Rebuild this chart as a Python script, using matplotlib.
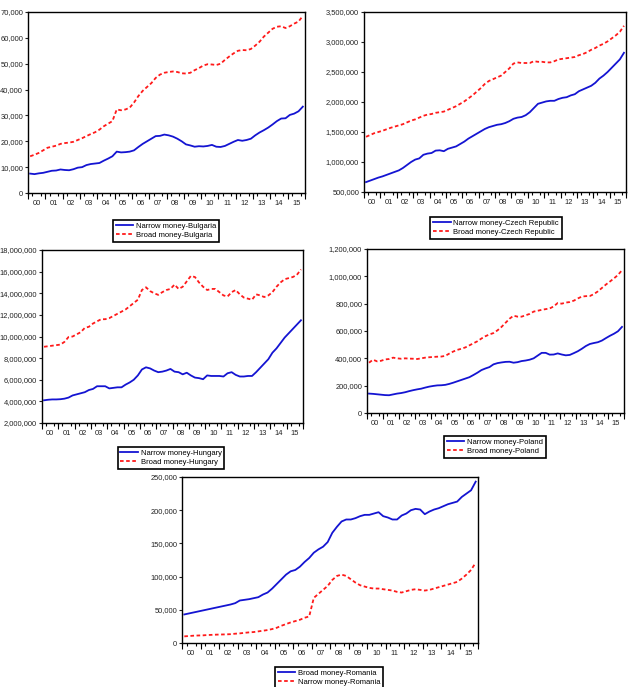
import numpy as np
import matplotlib
matplotlib.use("Agg")
import matplotlib.pyplot as plt
from matplotlib.ticker import FuncFormatter

plt.rcParams["font.family"] = ["Liberation Sans", "DejaVu Sans"]

# ---------- Data (quarterly, 2000Q1 - 2015Q4) ----------
year_labels = ["00", "01", "02", "03", "04", "05", "06", "07",
               "08", "09", "10", "11", "12", "13", "14", "15"]

# Bulgaria, thousands of units
bg_narrow = [7.5, 7.3, 7.6, 7.8, 8.2, 8.6, 8.7, 9.1, 8.9, 8.8, 9.2, 9.8,
             10.0, 10.8, 11.2, 11.4, 11.6, 12.5, 13.3, 14.2, 16.0, 15.7, 15.8, 16.0,
             16.5, 17.8, 19.0, 20.0, 21.0, 22.0, 22.1, 22.6, 22.3, 21.8, 21.0, 20.0,
             18.8, 18.4, 17.9, 18.1, 18.0, 18.2, 18.6, 17.9, 17.8, 18.2, 19.0, 19.8,
             20.5, 20.2, 20.5, 21.0, 22.3, 23.4, 24.3, 25.3, 26.5, 27.8, 28.8, 28.9,
             30.2, 30.7, 31.6, 33.4]
bg_broad = [14.2, 14.8, 15.5, 16.5, 17.5, 17.9, 18.3, 19.0, 19.3, 19.5, 19.8, 20.5,
            21.2, 22.0, 22.8, 23.5, 24.5, 25.8, 26.8, 27.8, 32.3, 32.0, 32.3, 33.0,
            35.0, 37.5, 39.5, 41.0, 42.5, 44.5, 45.8, 46.5, 46.8, 47.0, 46.8, 46.3,
            46.2, 46.5, 47.5, 48.3, 49.3, 49.8, 49.7, 49.5, 50.0, 51.5, 52.8, 54.0,
            55.0, 55.3, 55.2, 55.7, 57.0, 58.5, 60.5, 62.0, 63.5, 64.3, 64.5, 63.8,
            64.5, 65.5, 66.3, 68.5]

# Czech Republic, thousands
cz_narrow = [665, 690, 715, 740, 760, 785, 810, 835, 860, 900, 950, 1000,
             1040, 1060, 1120, 1140, 1150, 1190, 1195, 1180, 1220, 1240, 1260, 1300,
             1340, 1390, 1430, 1470, 1510, 1550, 1580, 1600, 1620, 1630, 1650, 1680,
             1720, 1740, 1750, 1780, 1830, 1900, 1970, 1990, 2010, 2020, 2020, 2050,
             2070, 2080, 2110, 2130, 2180, 2210, 2240, 2270, 2320, 2390, 2440, 2500,
             2570, 2640, 2710, 2820]
cz_broad = [1420, 1450, 1480, 1500, 1520, 1545, 1570, 1590, 1610, 1630, 1660, 1690,
            1710, 1740, 1770, 1790, 1800, 1820, 1830, 1840, 1870, 1900, 1930, 1970,
            2010, 2060, 2110, 2170, 2230, 2300, 2350, 2380, 2410, 2440, 2500, 2560,
            2640, 2660, 2650, 2650, 2650, 2680, 2670, 2670, 2660, 2660, 2680, 2710,
            2720, 2730, 2740, 2750, 2780, 2800, 2830, 2870, 2900, 2940, 2970, 3010,
            3060, 3110, 3170, 3270]

# Hungary, millions
hu_narrow = [4.10, 4.15, 4.18, 4.18, 4.20, 4.25, 4.35, 4.55, 4.65, 4.75, 4.85, 5.05,
             5.15, 5.40, 5.40, 5.40, 5.20, 5.25, 5.30, 5.30, 5.55, 5.75, 6.00, 6.40,
             6.95, 7.15, 7.05, 6.85, 6.70, 6.75, 6.85, 7.00, 6.75, 6.70, 6.50, 6.65,
             6.40, 6.20, 6.15, 6.05, 6.40, 6.35, 6.35, 6.35, 6.30, 6.60, 6.70, 6.45,
             6.30, 6.30, 6.35, 6.35, 6.70, 7.10, 7.50, 7.90, 8.50, 8.90, 9.40, 9.90,
             10.3, 10.7, 11.1, 11.5]
hu_broad = [9.05, 9.10, 9.15, 9.20, 9.25, 9.50, 9.95, 10.0, 10.2, 10.4, 10.8, 10.9,
            11.2, 11.4, 11.6, 11.6, 11.7, 11.9, 12.1, 12.3, 12.5, 12.8, 13.1, 13.4,
            14.3, 14.55, 14.2, 14.0, 13.85, 14.1, 14.3, 14.4, 14.8, 14.4, 14.6, 15.1,
            15.6, 15.5, 15.0, 14.6, 14.3, 14.4, 14.4, 14.1, 13.8, 13.7, 14.1, 14.3,
            13.9, 13.6, 13.5, 13.4, 13.9, 13.8, 13.65, 13.8, 14.1, 14.6, 15.0, 15.3,
            15.4, 15.5, 15.7, 16.2]

# Poland, thousands
pl_narrow = [142, 140, 137, 134, 131, 130, 136, 142, 146, 152, 160, 167,
             173, 178, 186, 193, 198, 202, 203, 206, 213, 222, 232, 242,
             252, 262, 278, 295, 314, 326, 336, 356, 365, 370, 374, 375,
             368, 372, 380, 384, 390, 400, 420, 440, 440, 427, 428, 436,
             428, 422, 425, 438, 452, 470, 490, 505, 512, 518, 530, 548,
             565, 580, 598, 630]
pl_broad = [368, 390, 378, 382, 392, 395, 405, 400, 397, 400, 398, 397,
            395, 400, 405, 408, 410, 412, 413, 418, 435, 450, 462, 470,
            480, 495, 510, 525, 545, 562, 575, 585, 605, 630, 660, 690,
            712, 705, 705, 715, 725, 742, 748, 755, 760, 765, 780, 805,
            800, 808, 812, 822, 838, 852, 855, 856, 870, 890, 915, 940,
            962, 985, 1010, 1045]

# Romania, thousands
ro_broad = [43, 44.5, 46, 47.5, 49, 50.5, 52, 53.5, 55, 56.5, 58, 60,
            64, 65, 66, 67.5, 69, 73, 76, 82, 89, 96, 103, 108,
            110, 115, 122, 128, 136, 141, 145, 152, 166, 175, 183, 186,
            186, 188, 191, 193, 193, 195, 197, 191, 189, 186, 186, 192,
            195, 200, 202, 201, 194, 198, 201, 203, 206, 209, 211, 213,
            220, 225, 230, 243]
ro_narrow = [10, 10.5, 11, 11.3, 11.5, 12, 12.3, 12.6, 12.8, 13, 13.3, 14,
             14.5, 15.3, 16, 16.5, 17.5, 18.5, 19.5, 21, 23, 26, 28.5, 31,
             33, 35, 38, 40, 68, 74, 80, 86, 95, 101, 103, 101,
             96, 91, 87, 85, 83, 82, 82, 81, 80, 79, 77, 76,
             78, 80, 81, 80, 79, 80, 82, 84, 86, 88, 90, 92,
             97, 103, 110, 121]

# ---------- Layout ----------
W, H = 633, 687
BLUE = "#1414d2"
RED = "#ff1a1a"
t = 2000 + (np.arange(64) + 0.5) / 4


def px_axes(fig, left, top, right, bottom):
    return fig.add_axes([left / W, 1 - bottom / H, (right - left) / W, (bottom - top) / H])


def draw_panel(fig, box, blue, red, scale, labels, ylim, ystep, legend_pos):
    ax = px_axes(fig, *box)
    ax.plot(t, np.array(blue) * scale, color=BLUE, lw=1.3, label=labels[0])
    ax.plot(t, np.array(red) * scale, color=RED, lw=1.3,
            linestyle=(0, (2, 1.4)), label=labels[1])
    ax.set_xlim(2000, 2016)
    ax.set_ylim(*ylim)
    ax.set_yticks(np.arange(ylim[0], ylim[1] + 1, ystep))
    ax.yaxis.set_major_formatter(FuncFormatter(lambda v, p: f"{int(v):,}"))

    # year labels centred, quarter ticks short, year ticks long
    ax.set_xticks(np.arange(2000, 2016) + 0.5, year_labels)
    ax.set_xticks(np.arange(2000, 2016.01, 0.25), minor=True)
    ax.tick_params(axis="x", which="major", length=0, pad=5)
    ax.tick_params(axis="x", which="minor", length=2, width=0.8, direction="out")
    sec = ax.secondary_xaxis("bottom")
    sec.set_xticks(np.arange(2000, 2017))
    sec.tick_params(length=4, width=0.8, labelbottom=False)
    sec.spines["bottom"].set_visible(False)
    ax.tick_params(axis="y", length=2.5, width=0.8, pad=1)
    ax.tick_params(labelsize=5.4, colors="#222222")
    for s in ax.spines.values():
        s.set_linewidth(1.0)

    cx, top = legend_pos
    leg = ax.legend(loc="upper center", bbox_to_anchor=(cx / W, 1 - top / H),
                    bbox_transform=fig.transFigure, fontsize=5.5, frameon=True,
                    fancybox=False, framealpha=1, edgecolor="black",
                    handlelength=2.3, handletextpad=0.35, labelspacing=0.2,
                    borderpad=0.35, borderaxespad=0)
    leg.get_frame().set_linewidth(1.2)
    return ax


fig = plt.figure(figsize=(W / 100, H / 100), dpi=100)

draw_panel(fig, (28, 12, 305, 193), bg_narrow, bg_broad, 1000,
           ["Narrow money-Bulgaria", "Broad money-Bulgaria"],
           (0, 70000), 10000, (166, 220))
draw_panel(fig, (364, 12, 626, 192), cz_narrow, cz_broad, 1000,
           ["Narrow money-Czech Republic", "Broad money-Czech Republic"],
           (500000, 3500000), 500000, (496, 217))
draw_panel(fig, (42, 250, 303, 423), hu_narrow, hu_broad, 1000000,
           ["Narrow money-Hungary", "Broad money-Hungary"],
           (2000000, 18000000), 2000000, (171, 447))
draw_panel(fig, (367, 249, 624, 413), pl_narrow, pl_broad, 1000,
           ["Narrow money-Poland", "Broad money-Poland"],
           (0, 1200000), 200000, (495, 436))
draw_panel(fig, (182, 477, 478, 643), ro_broad, ro_narrow, 1000,
           ["Broad money-Romania", "Narrow money-Romania"],
           (0, 250000), 50000, (329, 667))

fig.savefig("out.png", dpi=100)
